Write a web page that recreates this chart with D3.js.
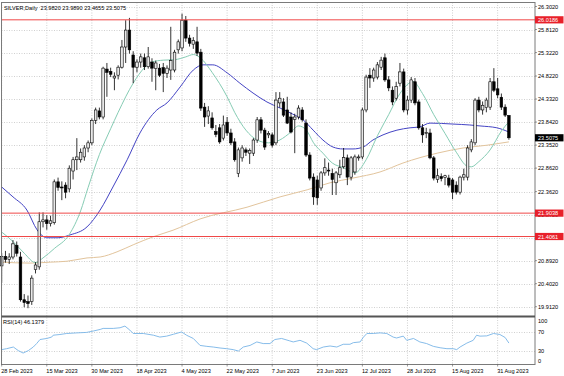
<!DOCTYPE html>
<html>
<head>
<meta charset="utf-8">
<script src="https://cdn.jsdelivr.net/npm/d3@7"></script>
<style>
body { margin: 0; background: #fff; }
svg text { font-family: "Liberation Sans", Arial, sans-serif; font-size: 5.6px; fill: #000; white-space: pre; }
</style>
</head>
<body>
<svg id="chart"></svg>
<script>
// daily bars (bar index 0 = 28 Feb 2023)
var opens = [20.78, 20.98, 20.92, 20.97, 21.22, 20.97, 20.06, 20.02, 20.02, 20.70,
    20.76, 21.72, 21.76, 21.68, 21.70, 22.57, 22.46, 22.50, 22.42, 22.80,
    23.04, 23.04, 23.10, 23.29, 23.40, 23.88, 24.08, 23.95, 24.97, 24.92,
    24.78, 24.84, 25.01, 25.44, 25.80, 25.27, 25.01, 25.12, 25.21, 25.02,
    25.12, 24.98, 24.99, 25.00, 24.88, 24.95, 24.95, 25.38, 25.42, 26.01,
    25.63, 25.50, 25.55, 25.33, 24.16, 23.97, 23.93, 23.64, 23.72, 23.50,
    23.84, 23.61, 23.42, 22.75, 23.08, 23.25, 23.18, 23.18, 23.46, 23.89,
    23.67, 23.57, 23.57, 23.40, 24.25, 24.27, 24.10, 23.95, 23.90, 23.95,
    24.10, 23.82, 23.14, 22.67, 22.61, 22.44, 22.76, 22.82, 22.75, 22.55,
    22.72, 22.89, 23.08, 22.67, 22.78, 23.08, 23.10, 24.10, 24.84, 24.78,
    24.80, 25.01, 25.21, 24.74, 24.52, 24.35, 24.67, 24.91, 24.10, 24.31,
    24.70, 24.27, 23.72, 23.60, 23.61, 23.08, 22.62, 22.68, 22.66, 22.65,
    22.61, 22.50, 22.35, 22.67, 22.67, 23.25, 23.40, 24.31, 24.10, 24.15,
    24.16, 24.70, 24.55, 24.37, 24.16, 23.982];
var highs = [21.05, 21.10, 21.05, 21.33, 21.30, 21.08, 20.18, 20.15, 20.58, 20.86,
    21.92, 21.92, 21.86, 21.85, 22.62, 22.66, 22.58, 22.56, 22.92, 23.10,
    23.50, 23.28, 23.35, 23.45, 23.92, 24.15, 24.15, 25.02, 25.10, 25.00,
    24.90, 25.05, 25.59, 26.01, 26.06, 25.35, 25.18, 25.30, 25.30, 25.44,
    25.20, 25.15, 25.08, 25.10, 25.05, 25.87, 25.38, 25.60, 26.15, 26.10,
    25.70, 25.65, 25.87, 25.40, 24.25, 24.18, 24.05, 23.78, 23.80, 23.98,
    23.95, 23.70, 23.50, 23.30, 23.35, 23.30, 23.28, 23.50, 23.95, 23.95,
    23.72, 23.65, 23.62, 24.48, 24.48, 24.35, 24.38, 24.05, 24.02, 24.20,
    24.16, 23.90, 23.20, 22.75, 22.70, 22.80, 23.07, 22.98, 22.85, 22.80,
    23.04, 23.29, 23.15, 23.12, 23.15, 23.15, 24.15, 24.85, 24.99, 25.00,
    25.12, 25.23, 25.30, 24.82, 24.60, 24.70, 25.10, 24.98, 24.40, 24.80,
    24.78, 24.32, 23.80, 23.72, 23.70, 23.12, 22.85, 22.75, 22.72, 22.72,
    22.65, 22.58, 22.70, 22.85, 23.35, 23.48, 24.35, 24.38, 24.28, 24.36,
    24.78, 24.99, 24.78, 24.45, 24.22, 23.989];
var lows = [20.42, 20.85, 20.82, 20.92, 20.98, 20.02, 19.90, 19.88, 19.95, 20.62,
    20.70, 21.60, 21.55, 21.62, 21.66, 22.38, 22.18, 22.22, 22.35, 22.62,
    22.82, 22.98, 23.02, 23.20, 23.35, 23.80, 23.90, 23.90, 24.38, 24.80,
    24.52, 24.75, 24.98, 25.10, 25.30, 24.67, 24.90, 25.00, 24.95, 24.98,
    24.70, 24.52, 24.80, 24.48, 24.78, 24.74, 24.90, 25.30, 25.35, 25.55,
    25.45, 25.40, 25.25, 24.08, 23.74, 23.80, 23.68, 23.52, 23.38, 23.45,
    23.55, 23.35, 23.00, 22.67, 23.00, 23.12, 22.95, 23.12, 23.40, 23.60,
    23.25, 23.50, 23.30, 23.35, 24.15, 23.95, 23.80, 23.60, 23.18, 23.90,
    23.85, 23.10, 22.60, 22.08, 22.08, 22.38, 22.70, 22.70, 22.29, 22.29,
    22.65, 22.85, 22.50, 22.60, 22.72, 23.02, 23.05, 24.05, 24.57, 24.70,
    24.75, 24.95, 24.70, 24.50, 24.20, 24.30, 24.60, 24.05, 24.00, 24.25,
    24.20, 23.68, 23.40, 23.50, 23.05, 22.60, 22.55, 22.58, 22.50, 22.45,
    22.20, 22.30, 22.30, 22.60, 22.60, 23.20, 23.35, 24.05, 24.00, 24.05,
    24.10, 24.48, 24.35, 24.10, 23.95, 23.4655];
var closes = [20.98, 20.92, 20.97, 21.25, 21.05, 20.06, 20.00, 19.98, 20.52, 20.80,
    21.72, 21.76, 21.68, 21.74, 22.57, 22.45, 22.44, 22.35, 22.86, 23.04,
    23.10, 23.20, 23.29, 23.40, 23.88, 24.10, 23.95, 24.99, 24.90, 24.86,
    24.82, 25.01, 25.44, 25.80, 25.38, 25.01, 25.12, 25.23, 25.02, 25.23,
    24.99, 25.10, 24.84, 24.88, 24.99, 25.15, 25.33, 25.55, 26.01, 25.63,
    25.52, 25.58, 25.31, 24.14, 23.95, 24.08, 23.72, 23.58, 23.42, 23.78,
    23.61, 23.40, 23.04, 23.25, 23.29, 23.20, 23.24, 23.46, 23.89, 23.67,
    23.31, 23.60, 23.35, 24.31, 24.35, 23.99, 23.82, 23.63, 23.95, 24.14,
    23.89, 23.14, 22.65, 22.25, 22.23, 22.76, 22.87, 22.80, 22.62, 22.76,
    22.87, 23.09, 22.67, 23.08, 23.10, 23.10, 24.10, 24.80, 24.78, 24.95,
    25.06, 25.16, 24.74, 24.57, 24.27, 24.60, 24.91, 24.10, 24.31, 24.74,
    24.25, 23.72, 23.57, 23.62, 23.08, 22.65, 22.70, 22.64, 22.70, 22.50,
    22.35, 22.35, 22.67, 22.72, 23.29, 23.42, 24.31, 24.10, 24.20, 24.31,
    24.70, 24.52, 24.42, 24.16, 23.99, 23.5075];

// moving averages, [bar index, price]
var fastMa = [[0, 21.50], [3, 21.30], [6, 21.05], [9, 20.85], [11, 20.95], [14, 21.15], [18, 21.45],
    [21, 21.95], [23, 22.45], [26, 23.15], [29, 23.70], [31, 24.05], [35, 24.67], [38, 25.00],
    [40, 25.12], [43, 25.16], [46, 25.17], [49, 25.23], [51, 25.28], [53, 25.20], [56, 24.90],
    [60, 24.38], [62, 24.05], [65, 23.67], [68, 23.46], [71, 23.40], [74, 23.46], [77, 23.63],
    [79, 23.76], [81, 23.68], [83, 23.40], [85.5, 23.18], [88, 22.97], [91, 22.87], [94, 22.76],
    [97, 23.04], [100, 23.55], [103, 24.00], [106, 24.45], [109.5, 24.70], [112, 24.45],
    [115, 24.00], [118, 23.60], [121, 23.20], [124, 22.90], [125, 22.89], [127, 23.00],
    [130, 23.25], [133, 23.65], [135, 23.85]];
var midMa = [[0, 22.46], [3, 22.25], [6.7, 21.97], [9.4, 21.55], [12, 21.38], [15, 21.38],
    [18.2, 21.44], [22.7, 21.61], [26.2, 21.97], [29.6, 22.46], [33.4, 23.04], [36.8, 23.61],
    [41.3, 24.10], [44, 24.25], [47.5, 24.59], [51, 24.95], [53.6, 25.06], [56.2, 25.06],
    [60, 24.89], [63.4, 24.67], [66.9, 24.46], [70.6, 24.27], [74.1, 24.14], [77.5, 24.01],
    [80.2, 23.89], [82.9, 23.67], [85.5, 23.46], [88.2, 23.31], [90.8, 23.27], [93.5, 23.27],
    [96.2, 23.31], [98.8, 23.46], [101.5, 23.57], [105.2, 23.67], [108.7, 23.72],
    [111.3, 23.74], [114, 23.82], [120.1, 23.80], [124.6, 23.78], [127.3, 23.76],
    [131.8, 23.72], [135, 23.63]];
var slowMa = [[0, 20.86], [7.5, 20.84], [12.9, 20.86], [17.4, 20.88], [22.7, 20.95], [26.2, 20.97],
    [30.7, 21.08], [35, 21.23], [40.3, 21.40], [45.6, 21.54], [52.8, 21.78], [65.3, 22.03],
    [74.1, 22.25], [81.3, 22.40], [87.4, 22.55], [93.5, 22.65], [100.7, 22.78], [106.8, 22.97],
    [115.9, 23.18], [122.8, 23.29], [129.2, 23.35], [135, 23.42]];

// RSI(14), [bar index, value]
var rsiPts = [[0, 32], [1.3, 34], [3.1, 37.6], [4.4, 30], [5.7, 24.6], [7.1, 30], [8.4, 37.6],
    [9.3, 45], [10.2, 53.7], [12, 56], [13.3, 59], [13.7, 63], [15.5, 64.5], [17.3, 66.7],
    [20, 68], [22.6, 69], [24.4, 72], [26.2, 75.4], [27, 77.6], [29.7, 77.6], [31.5, 79],
    [32.8, 82.6], [34.1, 74], [35, 66.7], [37.7, 66.7], [40.4, 63], [42.1, 59], [43.9, 61],
    [45.7, 65], [47.9, 70], [49.2, 63], [51, 56], [52.8, 41], [54.6, 39], [56.3, 37.6],
    [58.1, 35.5], [59.9, 34], [61.6, 32], [63, 29], [64.3, 37.6], [66.1, 41], [67.9, 48.5],
    [69.6, 45], [71.4, 45], [72.7, 53.7], [74.5, 56], [76.7, 50.7], [77.6, 48.5], [79.4, 52],
    [81.2, 46], [82.9, 34], [83.8, 32], [85.6, 37.6], [87.4, 39.8], [89.2, 37.6], [90.9, 43.5],
    [92.7, 43.5], [93.6, 47], [95.4, 48.5], [96.3, 59], [97.2, 66.7], [98.9, 66.7], [100.7, 68],
    [102.5, 66.7], [104.2, 59], [105.1, 57], [106.9, 61], [107.8, 52], [109.6, 56], [111.3, 48.5],
    [113.1, 45], [114.9, 39], [116.7, 36], [118.5, 34], [120.2, 34], [121.1, 32], [122, 37.6],
    [123.8, 46], [125.5, 52], [126.4, 63], [127.3, 61], [129.1, 61.5], [130.9, 66.7],
    [132.6, 64.5], [134, 58], [135, 46.1]];

var priceTicks = [26.302, 25.812, 25.322, 24.822, 24.332, 23.842, 23.352, 22.862, 22.362,
    21.872, 21.382, 20.892, 20.402, 19.912];
var levelLines = [26.0186, 21.9038, 21.4061];
var rsiTicks = [100, 70, 30, 0];
var rsiLevels = [70, 30];
var dateIdx = [0, 12, 24, 36, 48, 60, 72, 84, 96, 108, 120, 132];
var dateLabels = ["28 Feb 2023", "15 Mar 2023", "30 Mar 2023", "18 Apr 2023", "4 May 2023",
    "22 May 2023", "7 Jun 2023", "23 Jun 2023", "12 Jul 2023", "28 Jul 2023",
    "15 Aug 2023", "31 Aug 2023"];
var lastPrice = 23.5075;

var ctx = {
    w: 564, h: 376,
    left: 1.5, right: 535,
    top: 2.5, mainBottom: 316,
    rsiTop: 318, rsiBottom: 364.5,
    bodyW: 2.6,
    GRID: "#c4c4c4"
};

var svgEl = d3.select("#chart")
    .attr("width", ctx.w)
    .attr("height", ctx.h);

var x = d3.scaleLinear().domain([0, 135]).range([1.7, 508.9]);
var y = d3.scaleLinear().domain([19.714, 26.398]).range([ctx.mainBottom, 2]);
var ry = d3.scaleLinear().domain([0, 100]).range([ctx.rsiBottom, ctx.rsiTop]);

// grid
var gridG = svgEl.append("g").attr("stroke", ctx.GRID).attr("stroke-dasharray", "1,1.5").attr("stroke-width", 0.8);
gridG.selectAll("line.h")
    .data(priceTicks)
    .enter()
    .append("line")
    .attr("x1", ctx.left).attr("x2", ctx.right)
    .attr("y1", d => Math.round(y(d)) + 0.5).attr("y2", d => Math.round(y(d)) + 0.5);
gridG.selectAll("line.r")
    .data(rsiLevels)
    .enter()
    .append("line")
    .attr("x1", ctx.left).attr("x2", ctx.right)
    .attr("y1", d => Math.round(ry(d)) + 0.5).attr("y2", d => Math.round(ry(d)) + 0.5);
gridG.selectAll("line.v")
    .data(dateIdx)
    .enter()
    .append("line")
    .attr("x1", d => x(d)).attr("x2", d => x(d))
    .attr("y1", ctx.top).attr("y2", ctx.rsiBottom);

// moving averages
var maLine = d3.line()
    .x(d => x(d[0]))
    .y(d => y(d[1]))
    .curve(d3.curveMonotoneX);
[[slowMa, "#e2c49c"], [midMa, "#4444c4"], [fastMa, "#86ccb4"]].forEach(function(m) {
    svgEl.append("path")
        .attr("d", maLine(m[0]))
        .attr("fill", "none")
        .attr("stroke", m[1])
        .attr("stroke-width", 1);
});

// candles
var bars = opens.map(function(o, i) {
    return { i: i, o: o, h: highs[i], l: lows[i], c: closes[i] };
});
var candleG = svgEl.append("g");
candleG.selectAll("line")
    .data(bars)
    .enter()
    .append("line")
    .attr("x1", d => x(d.i)).attr("x2", d => x(d.i))
    .attr("y1", d => y(d.h)).attr("y2", d => y(d.l))
    .attr("stroke", "#000")
    .attr("stroke-width", 0.8);
candleG.selectAll("rect")
    .data(bars)
    .enter()
    .append("rect")
    .attr("x", d => x(d.i) - ctx.bodyW / 2)
    .attr("y", d => y(Math.max(d.o, d.c)))
    .attr("width", ctx.bodyW)
    .attr("height", d => Math.max(0.7, Math.abs(y(d.o) - y(d.c))))
    .attr("fill", d => d.c >= d.o ? "#e8e8e8" : "#000")
    .attr("stroke", "#000")
    .attr("stroke-width", 0.6);

// horizontal level lines
svgEl.selectAll("line.level")
    .data(levelLines)
    .enter()
    .append("line")
    .attr("x1", ctx.left).attr("x2", ctx.right)
    .attr("y1", d => y(d)).attr("y2", d => y(d))
    .attr("stroke", "#f04848")
    .attr("stroke-width", 1);

// RSI line
var rsiLine = d3.line()
    .x(d => x(d[0]))
    .y(d => ry(d[1]))
    .curve(d3.curveLinear);
svgEl.append("path")
    .attr("d", rsiLine(rsiPts))
    .attr("fill", "none")
    .attr("stroke", "#78b4e6")
    .attr("stroke-width", 0.9);

// frames
svgEl.append("rect")
    .attr("x", ctx.left).attr("y", ctx.top)
    .attr("width", ctx.right - ctx.left).attr("height", ctx.rsiBottom - ctx.top)
    .attr("fill", "none").attr("stroke", "#7a7a7a").attr("stroke-width", 1);
svgEl.append("line")
    .attr("x1", ctx.left).attr("x2", ctx.right)
    .attr("y1", ctx.mainBottom + 0.5).attr("y2", ctx.mainBottom + 0.5)
    .attr("stroke", "#555").attr("stroke-width", 1.8);

// price axis
var axisG = svgEl.append("g");
axisG.selectAll("text")
    .data(priceTicks)
    .enter()
    .append("text")
    .attr("x", 538)
    .attr("y", d => y(d) + 2)
    .text(d => d.toFixed(4));
axisG.selectAll("line")
    .data(priceTicks)
    .enter()
    .append("line")
    .attr("x1", ctx.right).attr("x2", ctx.right + 2)
    .attr("y1", d => y(d)).attr("y2", d => y(d))
    .attr("stroke", "#555").attr("stroke-width", 0.6);

// price flags
var flags = levelLines.map(v => ({ v: v, bg: "#e8202a" })).concat([{ v: lastPrice, bg: "#000" }]);
var flagG = svgEl.selectAll("g.flag")
    .data(flags)
    .enter()
    .append("g")
    .attr("transform", d => "translate(" + ctx.right + "," + y(d.v) + ")");
flagG.append("rect")
    .attr("x", 0).attr("y", -3.6)
    .attr("width", 28.5).attr("height", 7.2)
    .attr("fill", d => d.bg);
flagG.append("text")
    .attr("x", 3).attr("y", 2)
    .style("fill", "#fff")
    .text(d => d.v.toFixed(4));

// RSI axis
svgEl.selectAll("text.rsi")
    .data(rsiTicks)
    .enter()
    .append("text")
    .attr("x", 538)
    .attr("y", d => Math.min(Math.max(ry(d), ctx.rsiTop + 3), ctx.rsiBottom - 3.5) + 2)
    .text(d => d);

// time axis
svgEl.selectAll("text.date")
    .data(dateIdx)
    .enter()
    .append("text")
    .attr("x", d => x(d) - 0.5)
    .attr("y", 373)
    .text((d, j) => dateLabels[j]);
svgEl.selectAll("line.dtick")
    .data(dateIdx)
    .enter()
    .append("line")
    .attr("x1", d => x(d)).attr("x2", d => x(d))
    .attr("y1", ctx.rsiBottom).attr("y2", ctx.rsiBottom + 2)
    .attr("stroke", "#555").attr("stroke-width", 0.6);

// captions
svgEl.append("text")
    .attr("x", 4).attr("y", 9.5)
    .text("SILVER,Daily  23.9820 23.9890 23.4655 23.5075");
svgEl.append("text")
    .attr("x", 3).attr("y", 324)
    .text("RSI(14) 46.1379");
</script>
</body>
</html>
